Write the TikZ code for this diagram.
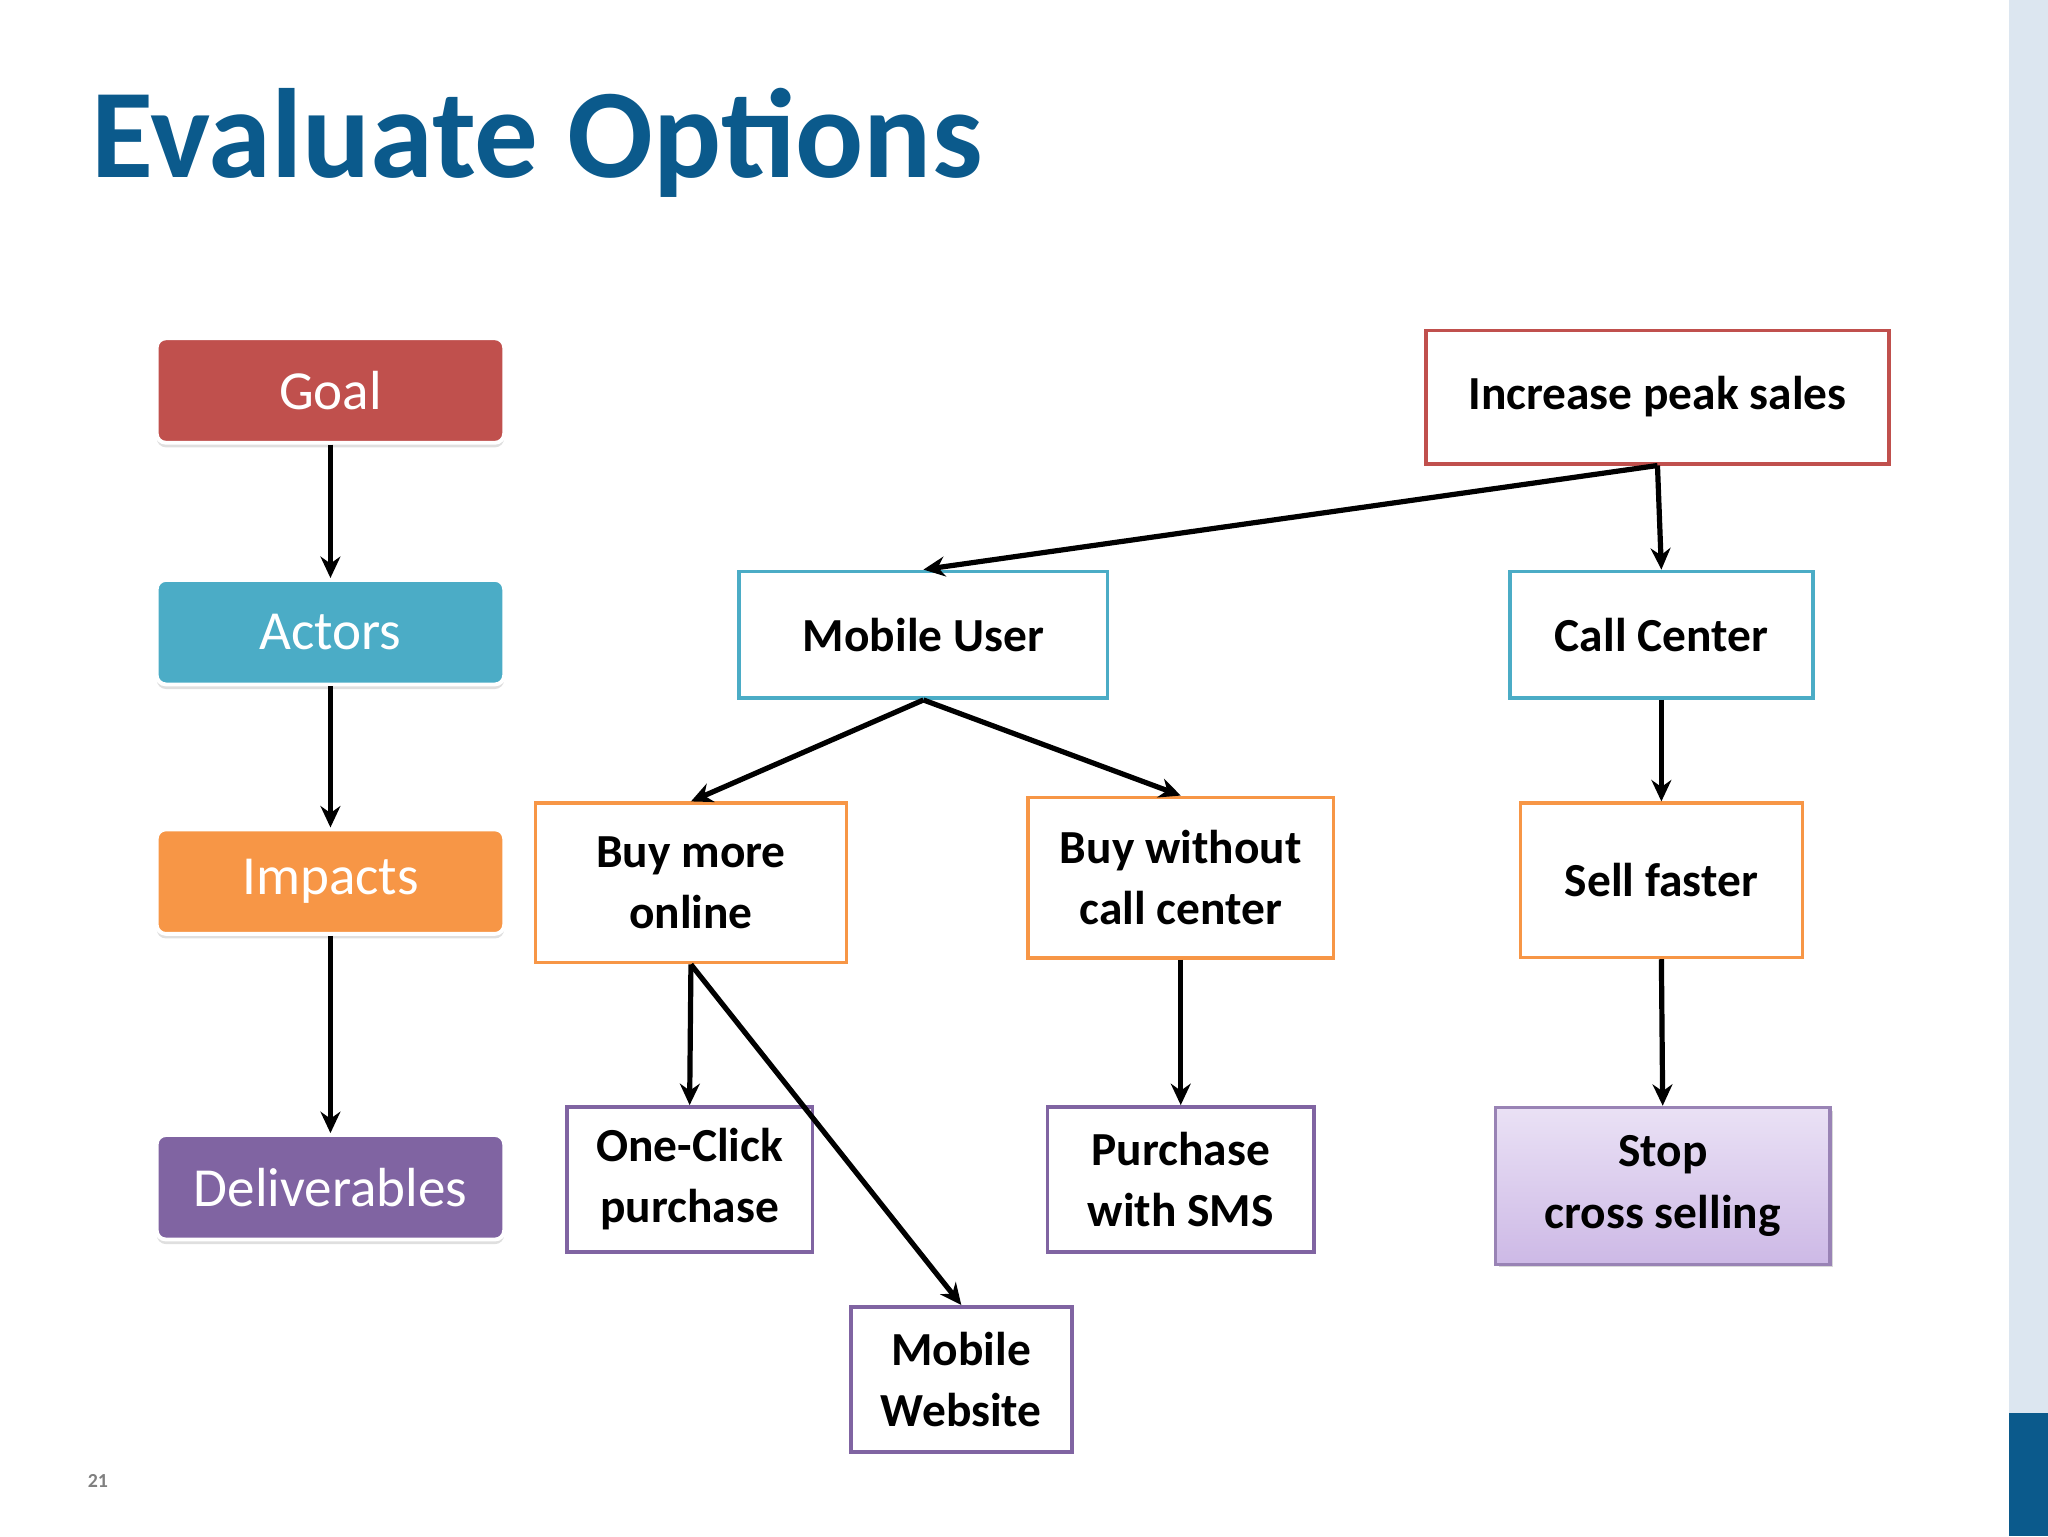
\documentclass[tikz,border=0pt]{standalone}
\usepackage{fontspec}
\setmainfont{Carlito}
\usetikzlibrary{arrows.meta,shadows}
\definecolor{cgoal}{HTML}{C0504D}
\definecolor{cact}{HTML}{4BACC6}
\definecolor{cimp}{HTML}{F79646}
\definecolor{cdel}{HTML}{8064A2}
\definecolor{ctitle}{HTML}{0B5A8C}
\definecolor{cband}{HTML}{DCE6F0}
\definecolor{lavtop}{HTML}{EAE1F5}
\definecolor{lavbot}{HTML}{CDB9E6}
\tikzset{
 lbox/.style={rounded corners=6pt, draw=white, line width=2.5pt, text=white,
   minimum width=266*0.03cm, minimum height=80*0.03cm,
   font=\fontsize{36}{42}\selectfont, drop shadow={shadow xshift=0pt,shadow yshift=-3pt,opacity=0.25}},
 rbox/.style={draw, fill=white, line width=2.4pt, align=center, inner sep=0pt,
   font=\fontsize{31}{40}\selectfont\bfseries},
 arr/.style={-{Stealth[length=14pt,width=13pt]}, line width=3.4pt, black},
}
\begin{document}
\begin{tikzpicture}[x=0.03cm,y=-0.03cm]
\useasboundingbox (0,0) rectangle (1568,1176);
\fill[cband] (1538,0) rectangle (1568,1176);
\fill[ctitle] (1538,1082) rectangle (1568,1176);
\node[anchor=base west, inner sep=0, text=ctitle, font=\fontsize{83}{90}\selectfont\bfseries] (title) at (70,136) {Evaluate Options};
\node[anchor=base west, inner sep=0, text=gray, font=\fontsize{13}{15}\selectfont\bfseries] (pg) at (67,1139) {21};
% left
\node[lbox, fill=cgoal] (goal) at (253,299) {Goal};
\node[lbox, fill=cact] (act) at (253,484) {Actors};
\node[lbox, fill=cimp] (imp) at (253,675) {Impacts};
\node[lbox, fill=cdel] (del) at (253,909) {Deliverables};
\draw[arr] (goal.south) -- (act.north);
\draw[arr] (act.south) -- (imp.north);
\draw[arr] (imp.south) -- (del.north);
% right
\node[rbox, draw=cgoal, minimum width=354*0.03cm, minimum height=102*0.03cm] (inc) at (1269,304) {Increase peak sales};
\node[rbox, draw=cact, minimum width=282*0.03cm, minimum height=97*0.03cm] (mu) at (707,486) {Mobile User};
\node[rbox, draw=cact, minimum width=232*0.03cm, minimum height=97*0.03cm] (cc) at (1272,486) {Call Center};
\node[rbox, draw=cimp, minimum width=238*0.03cm, minimum height=122*0.03cm] (bmo) at (529,676) {Buy more\\online};
\node[rbox, draw=cimp, minimum width=234*0.03cm, minimum height=123*0.03cm] (bwc) at (904,672) {Buy without\\call center};
\node[rbox, draw=cimp, minimum width=216*0.03cm, minimum height=118*0.03cm] (sf) at (1272,674) {Sell faster};
\node[rbox, draw=cdel, minimum width=188*0.03cm, minimum height=111*0.03cm] (oc) at (528,903) {One-Click\\purchase};
\node[rbox, draw=cdel, minimum width=204*0.03cm, minimum height=111*0.03cm] (sms) at (904,903) {Purchase\\with SMS};
\node[rbox, draw=cdel!80, top color=lavtop, bottom color=lavbot, minimum width=256*0.03cm, minimum height=120*0.03cm, drop shadow={shadow xshift=2pt,shadow yshift=-2pt,opacity=0.3}] (scs) at (1273,908) {Stop\\cross selling};
\node[rbox, draw=cdel, minimum width=169*0.03cm, minimum height=111*0.03cm] (mw) at (736,1056) {Mobile\\Website};
\draw[arr] (inc.south) -- (mu.north);
\draw[arr] (inc.south) -- (cc.north);
\draw[arr] (mu.south) -- (bmo.north);
\draw[arr] (mu.south) -- (bwc.north);
\draw[arr] (bmo.south) -- (oc.north);
\draw[arr] (bmo.south) -- (mw.north);
\draw[arr] (bwc.south) -- (sms.north);
\draw[arr] (cc.south) -- (sf.north);
\draw[arr] (sf.south) -- (scs.north);
\end{tikzpicture}
\end{document}
